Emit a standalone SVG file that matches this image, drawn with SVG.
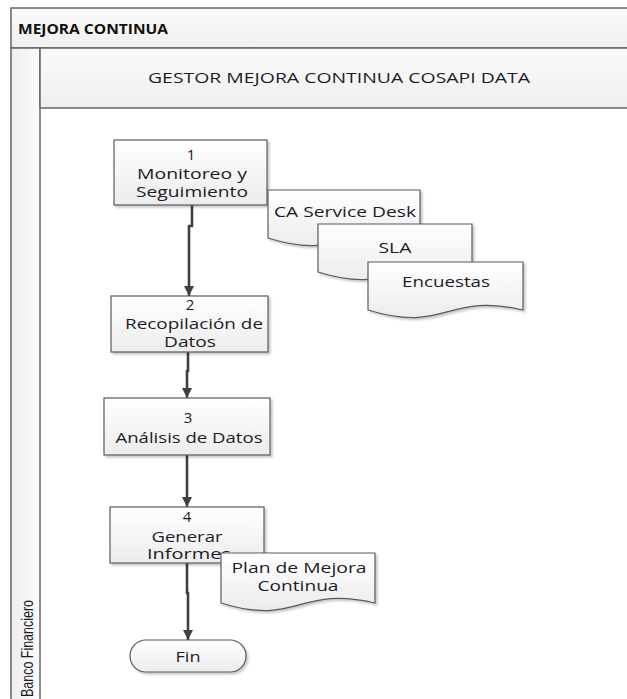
<svg xmlns="http://www.w3.org/2000/svg" width="627" height="699" viewBox="0 0 627 699">
  <style>
    text { font-family: "Open Sans", "Noto Sans", "Liberation Sans", sans-serif; fill: #1c1c28; }
    .t { font-size: 15px; text-anchor: middle; }
    .box { fill: url(#boxFill); stroke: #5a5a5a; stroke-width: 1.2; filter: url(#shadow); }
    .doc { fill: url(#boxFill); stroke: #5a5a5a; stroke-width: 1.2; filter: url(#shadow); }
    .band { fill: url(#bandFill); stroke: #666; stroke-width: 1.5; }
    .edge { fill: none; stroke: #404040; stroke-width: 2.6; marker-end: url(#arrow); }
  </style>
  <defs>
    <linearGradient id="boxFill" x1="0" y1="0" x2="0" y2="1">
      <stop offset="0" stop-color="#ffffff"/>
      <stop offset="1" stop-color="#ececec"/>
    </linearGradient>
    <linearGradient id="bandFill" x1="0" y1="0" x2="0" y2="1">
      <stop offset="0" stop-color="#fafafa"/>
      <stop offset="1" stop-color="#efefef"/>
    </linearGradient>
    <linearGradient id="laneFill" x1="0" y1="0" x2="1" y2="0">
      <stop offset="0" stop-color="#eeeeee"/>
      <stop offset="1" stop-color="#fbfbfb"/>
    </linearGradient>
    <filter id="shadow" x="-10%" y="-10%" width="125%" height="130%">
      <feDropShadow dx="2" dy="2" stdDeviation="1.2" flood-color="#000" flood-opacity="0.22"/>
    </filter>
    <marker id="arrow" viewBox="0 0 10 10" refX="10" refY="5" markerWidth="10" markerHeight="12" markerUnits="userSpaceOnUse" orient="auto">
      <path d="M0,0 L10,5 L0,10 z" fill="#404040"/>
    </marker>
  </defs>

  <rect width="627" height="699" fill="#ffffff"/>

  <!-- pool frame -->
  <g id="pool">
    <rect class="band" x="11" y="8" width="630" height="40"/>
    <text x="18" y="34" style="font-size:14.5px;font-weight:bold;fill:#111" textLength="150" lengthAdjust="spacingAndGlyphs">MEJORA CONTINUA</text>
    <rect x="11" y="48" width="29" height="660" fill="url(#laneFill)" stroke="#666" stroke-width="1.5"/>
    <rect class="band" x="40" y="48" width="600" height="60"/>
    <text class="t" x="339" y="83" textLength="382" lengthAdjust="spacingAndGlyphs">GESTOR MEJORA CONTINUA COSAPI DATA</text>
    <text transform="translate(33,697) rotate(-90)" style="font-family:'Liberation Sans Narrow','Liberation Sans',sans-serif;font-size:17px" textLength="97" lengthAdjust="spacingAndGlyphs">Banco Financiero</text>
  </g>

  <!-- connectors -->
  <g id="connectors">
    <path class="edge" d="M192,205 V226 H189 V296"/>
    <path class="edge" d="M188,352 V371 H187 V398"/>
    <path class="edge" d="M187,455 V507"/>
    <path class="edge" d="M187,563 V593 H188 V640"/>
  </g>

  <!-- process steps -->
  <g id="step1">
    <rect class="box" x="114" y="140" width="153" height="65"/>
    <text class="t" x="191" y="160">1</text>
    <text class="t" x="192" y="179" textLength="110" lengthAdjust="spacingAndGlyphs">Monitoreo y</text>
    <text class="t" x="192" y="197" textLength="112" lengthAdjust="spacingAndGlyphs">Seguimiento</text>
  </g>

  <g id="doc-ca">
    <path class="doc" d="M268,190 H420 V238 C344,220 344,262 268,238 Z"/>
    <text class="t" x="345" y="217" textLength="142" lengthAdjust="spacingAndGlyphs">CA Service Desk</text>
  </g>
  <g id="doc-sla">
    <path class="doc" d="M318,224 H472 V272 C395,254 395,296 318,272 Z"/>
    <text class="t" x="395" y="253" textLength="33" lengthAdjust="spacingAndGlyphs">SLA</text>
  </g>
  <g id="doc-encuestas">
    <path class="doc" d="M368,262 H523 V310 C446,292 446,334 368,310 Z"/>
    <text class="t" x="446" y="287" textLength="88" lengthAdjust="spacingAndGlyphs">Encuestas</text>
  </g>

  <g id="step2">
    <rect class="box" x="111" y="296" width="157" height="56"/>
    <text class="t" x="190" y="310">2</text>
    <text class="t" x="194" y="329" textLength="138" lengthAdjust="spacingAndGlyphs">Recopilación de</text>
    <text class="t" x="190" y="347" textLength="52" lengthAdjust="spacingAndGlyphs">Datos</text>
  </g>

  <g id="step3">
    <rect class="box" x="104" y="398" width="166" height="57"/>
    <text class="t" x="188" y="423">3</text>
    <text class="t" x="189" y="443" textLength="147" lengthAdjust="spacingAndGlyphs">Análisis de Datos</text>
  </g>

  <g id="step4">
    <rect class="box" x="110" y="507" width="154" height="56"/>
    <text class="t" x="187" y="522">4</text>
    <text class="t" x="187" y="542" textLength="71" lengthAdjust="spacingAndGlyphs">Generar</text>
    <text class="t" x="189" y="559" textLength="84" lengthAdjust="spacingAndGlyphs">Informes</text>
  </g>

  <g id="doc-plan">
    <path class="doc" d="M221,553 H375 V603 C298,585 298,627 221,603 Z"/>
    <text class="t" x="299" y="573" textLength="135" lengthAdjust="spacingAndGlyphs">Plan de Mejora</text>
    <text class="t" x="298" y="591" textLength="81" lengthAdjust="spacingAndGlyphs">Continua</text>
  </g>

  <g id="fin">
    <rect class="box" x="130" y="640" width="116" height="32" rx="16" ry="16"/>
    <text class="t" x="188" y="662" textLength="25" lengthAdjust="spacingAndGlyphs">Fin</text>
  </g>
</svg>
